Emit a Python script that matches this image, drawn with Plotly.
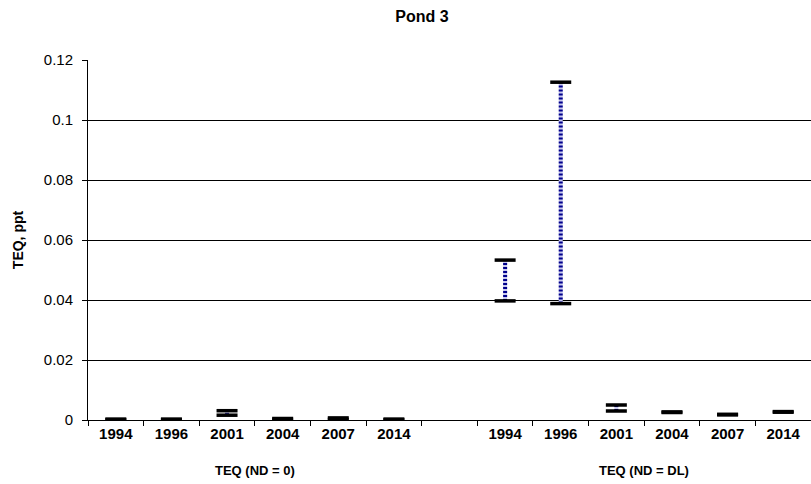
import plotly.graph_objects as go

# ---- data ----
years = ["1994", "1996", "2001", "2004", "2007", "2014"]
nd0_low = [0.0001, 0.0001, 0.0016, 0.0002, 0.0002, 0.0001]
nd0_high = [0.0003, 0.0003, 0.0031, 0.0005, 0.0007, 0.0003]
dl_low = [0.0397, 0.0388, 0.0030, 0.0025, 0.0017, 0.0026]
dl_high = [0.0533, 0.1126, 0.0050, 0.0027, 0.0019, 0.0028]
group_labels = ["TEQ (ND = 0)", "TEQ (ND = DL)"]
y_title = "TEQ, ppt"
chart_title = "Pond 3"

# category ids (unique) and display text
ids_nd0 = ["ND0-" + y for y in years]
ids_dl = ["DL-" + y for y in years]
gap_id = "gap"
cat_order = ids_nd0 + [gap_id] + ids_dl
cat_text = years + [""] + years

FONT = "Liberation Sans, Arial, sans-serif"
NAVY = "#00008b"

fig = go.Figure()


def add_group(ids, lows, highs):
    xs, ys = [], []
    for c, lo, hi in zip(ids, lows, highs):
        xs += [c, c, None]
        ys += [lo, hi, None]
    # light base so the dotted line reads as a checker pattern
    fig.add_trace(go.Scatter(
        x=xs, y=ys, mode="lines",
        line=dict(color="#c8c8ee", width=4),
        hoverinfo="skip", showlegend=False))
    fig.add_trace(go.Scatter(
        x=xs, y=ys, mode="lines",
        line=dict(color=NAVY, width=4, dash="2px,2px"),
        hoverinfo="skip", showlegend=False))
    fig.add_trace(go.Scatter(
        x=ids + ids, y=list(highs) + list(lows), mode="markers",
        marker=dict(symbol="line-ew", size=15, color="black",
                    line=dict(color="black", width=3.5)),
        showlegend=False))


add_group(ids_nd0, nd0_low, nd0_high)
add_group(ids_dl, dl_low, dl_high)

fig.update_layout(
    width=811, height=484,
    margin=dict(l=88, r=0, t=60, b=64),
    paper_bgcolor="white", plot_bgcolor="white",
    font=dict(family=FONT, color="black"),
    title=dict(text=chart_title, x=422 / 811, xanchor="center",
               y=1 - 16 / 484, yanchor="middle",
               font=dict(size=16, weight="bold", family=FONT)),
    showlegend=False,
)

fig.update_xaxes(
    type="category", categoryorder="array", categoryarray=cat_order,
    range=[-0.5, len(cat_order) - 0.5],
    tickmode="array", tickvals=cat_order, ticktext=cat_text,
    tickson="boundaries", ticks="outside", ticklen=5, tickcolor="black",
    showgrid=False, showline=True, linecolor="black", linewidth=1,
    tickfont=dict(size=15, weight="bold", family=FONT),
    zeroline=False,
)

fig.update_yaxes(
    range=[0, 0.12], dtick=0.02, tick0=0,
    showgrid=True, gridcolor="black", gridwidth=1,
    showline=True, linecolor="black", linewidth=1,
    ticks="outside", ticklen=5, tickcolor="black",
    tickfont=dict(size=15, family=FONT),
    ticklabelstandoff=6,
    zeroline=False,
    title=dict(text=y_title, font=dict(size=14, weight="bold", family=FONT),
               standoff=16),
)

# group labels under the axis
n0 = len(ids_nd0)
centers = [(n0 - 1) / 2, n0 + 1 + (len(ids_dl) - 1) / 2]
for cx, lab in zip(centers, group_labels):
    fig.add_annotation(x=cx, xref="x", y=-50 / 360, yref="paper",
                       text=lab, showarrow=False, yanchor="middle",
                       font=dict(size=13, weight="bold", family=FONT))

fig.write_html("out.html")
